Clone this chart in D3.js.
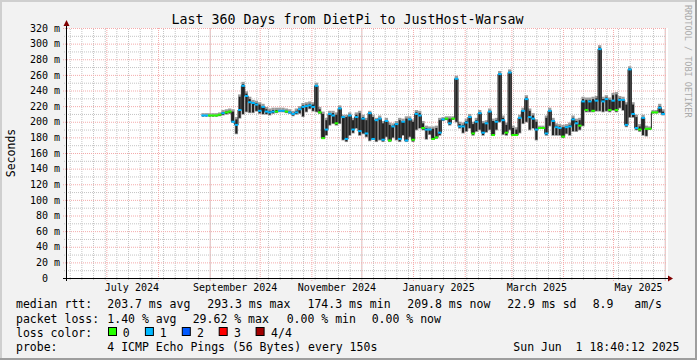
<!DOCTYPE html>
<html>
<head>
<meta charset="utf-8">
<script src="https://cdn.jsdelivr.net/npm/d3@7"></script>
<style>
body { margin: 0; background: #fff; }
svg { display: block; }
text { font-family: "DejaVu Sans Mono", monospace; white-space: pre; }
</style>
</head>
<body>
<div id="chart"></div>
<script>
// smokeping style graph, 360 days
const title = "Last 360 Days from DietPi to JustHost-Warsaw"
const startTime = new Date(2024, 5, 6, 18, 40, 12)
const endTime = new Date(2025, 5, 1, 18, 40, 12)
const firstSample = new Date(2024, 7, 28)
const stepDays = 2

const yTicks = [0, 20, 40, 60, 80, 100, 120, 140, 160, 180, 200, 220, 240, 260, 280, 300, 320]
const yMinor = [10, 30, 50, 70, 90, 110, 130, 150, 170, 190, 210, 230, 250, 270, 290, 310]

// median rtt (ms) per sample, and the spread of the median inside the sample
const med = [
  208, 208, 208, 208, 208, 209, 211, 212, 213, 200,
  196, 215, 246, 233, 225, 224, 222, 214, 219, 213,
  212, 213, 213, 214, 214, 213, 212, 210, 212, 216,
  219, 220, 221, 219, 246, 212, 179, 190, 210, 208,
  198, 217, 206, 178, 208, 190, 206, 188, 204, 185,
  211, 178, 202, 204, 177, 201, 176, 194, 197, 178,
  200, 176, 203, 177, 210, 208, 192, 190, 190, 178,
  180, 186, 203, 204, 198, 204, 255, 194, 194, 199,
  206, 185, 200, 211, 186, 198, 213, 183, 200, 261,
  202, 186, 263, 183, 183, 205, 214, 229, 206, 204,
  190, 192, 192, 185, 214, 201, 193, 192, 181, 193,
  194, 203, 198, 195, 226, 215, 226, 214, 227, 293,
  226, 229, 215, 227, 215, 228, 228, 196, 267, 210,
  192, 190, 205, 191, 191, 212, 212, 218, 210
]
const lo = [
  208, 208, 208, 208, 208, 208, 209, 210, 211, 200,
  185, 205, 210, 213, 212, 212, 214, 211, 210, 210,
  209, 211, 212, 213, 213, 212, 211, 208, 210, 211,
  207, 213, 217, 214, 213, 211, 179, 183, 196, 198,
  196, 198, 177, 175, 183, 186, 192, 183, 185, 181,
  176, 178, 175, 177, 175, 181, 175, 180, 177, 175,
  183, 175, 181, 175, 190, 192, 190, 178, 184, 178,
  179, 183, 202, 203, 196, 204, 200, 192, 186, 188,
  192, 183, 188, 190, 183, 187, 190, 183, 190, 200,
  184, 183, 190, 183, 183, 186, 198, 200, 190, 192,
  177, 192, 192, 183, 195, 183, 183, 183, 180, 185,
  183, 188, 188, 190, 195, 213, 213, 213, 214, 214,
  213, 214, 213, 215, 213, 218, 215, 194, 206, 206,
  190, 188, 183, 182, 191, 212, 212, 212, 209
]
const hi = [
  208, 208, 208, 208, 208, 209, 212, 213, 214, 213,
  203, 232, 248, 236, 229, 225, 224, 222, 220, 216,
  214, 215, 215, 215, 215, 214, 213, 211, 214, 217,
  221, 222, 223, 222, 247, 216, 210, 202, 211, 211,
  209, 218, 206, 206, 209, 202, 209, 211, 206, 202,
  211, 206, 202, 205, 198, 202, 196, 195, 198, 202,
  201, 204, 204, 200, 212, 211, 198, 192, 191, 191,
  192, 202, 203, 204, 204, 204, 256, 197, 196, 201,
  207, 197, 202, 212, 198, 199, 214, 201, 202, 262,
  205, 196, 264, 192, 190, 206, 215, 231, 214, 208,
  200, 192, 192, 205, 215, 202, 195, 194, 193, 194,
  196, 205, 201, 202, 229, 228, 228, 229, 230, 295,
  229, 231, 228, 234, 235, 230, 229, 222, 268, 222,
  206, 194, 206, 192, 191, 212, 212, 220, 213
]
// lost pings per sample (of 4)
const loss = [
  1, 1, 0, 0, 0, 0, 1, 0, 0, 1,
  1, 1, 1, 1, 1, 1, 1, 1, 1, 1,
  1, 1, 0, 1, 1, 0, 1, 1, 1, 1,
  1, 1, 1, 1, 1, 0, 0, 1, 1, 1,
  0, 1, 1, 1, 1, 1, 1, 1, 1, 1,
  1, 1, 1, 1, 1, 1, 0, 1, 1, 1,
  1, 1, 1, 0, 1, 1, 0, 1, 1, 0,
  0, 1, 1, 0, 1, 0, 1, 1, 1, 1,
  1, 0, 1, 1, 1, 1, 1, 0, 1, 1,
  1, 0, 1, 0, 0, 1, 1, 1, 1, 1,
  1, 0, 0, 1, 1, 1, 1, 1, 0, 1,
  1, 1, 1, 0, 1, 0, 1, 0, 1, 1,
  1, 1, 0, 1, 0, 1, 1, 1, 1, 1,
  1, 0, 1, 0, 0, 0, 0, 1, 1
]

const lossLabels = ["0", "1", "2", "3", "4/4"]
const lossColors = ["#26ff00", "#00b8ff", "#0059ff", "#ff0000", "#a10000"]
const rttStats = ["203.7 ms avg", "293.3 ms max", "174.3 ms min", "209.8 ms now", "22.9 ms sd", "8.9   am/s"]
const lossStats = ["1.40 % avg", "29.62 % max", "0.00 % min", "0.00 % now"]
const probeText = "4 ICMP Echo Pings (56 Bytes) every 150s"
const stamp = "Sun Jun  1 18:40:12 2025"

width = 697
height = 360
margin = ({ top: 28, right: 31, bottom: 82, left: 66 })
plotW = 600
plotH = 250
bottom = margin.top + plotH

sampleDates = med.map((d, i) => d3.timeDay.offset(firstSample, i * stepDays))

x = d3.scaleTime()
   .domain([startTime, endTime])
   .range([margin.left, margin.left + plotW])

y = d3.scaleLinear()
   .domain([0, 320])
   .range([bottom, margin.top])

const svg = d3.create("svg")
   .attr("width", width)
   .attr("height", height)
   .attr("viewBox", [0, 0, width, height])

// background + 3d frame
svg.append("rect").attr("width", width).attr("height", height).attr("fill", "#f2f2f2")
svg.append("path").attr("d", `M0,0H${width}V2H2V${height}H0Z`).attr("fill", "#cfcfcf")
svg.append("path").attr("d", `M${width},0V${height}H0V${height - 2}H${width - 2}V0Z`).attr("fill", "#9e9e9e")

svg.append("rect")
   .attr("x", margin.left).attr("y", margin.top)
   .attr("width", plotW + 2).attr("height", plotH)
   .attr("fill", "#fff")

// grid
gridStyle = (color) => g => g
   .call(g => g.select(".domain").remove())
   .call(g => g.selectAll("text").remove())
   .call(g => g.selectAll("line").attr("stroke", color).attr("stroke-dasharray", "1,1"))

svg.append("g")
   .attr("transform", `translate(0,${bottom + 2})`)
   .call(d3.axisBottom(x).tickValues(d3.timeSunday.range(startTime, endTime)).tickSize(-(plotH + 2)))
   .call(gridStyle("#c4c4c4"))

svg.append("g")
   .attr("transform", `translate(${margin.left - 2},0)`)
   .call(d3.axisLeft(y).tickValues(yMinor).tickSize(-(plotW + 2)))
   .call(gridStyle("#c4c4c4"))

svg.append("g")
   .attr("transform", `translate(0,${bottom + 3})`)
   .call(d3.axisBottom(x).tickValues(d3.timeMonth.range(startTime, endTime)).tickSize(-(plotH + 3)))
   .call(gridStyle("#f4abab"))

svg.append("g")
   .attr("transform", `translate(${margin.left - 3},0)`)
   .call(d3.axisLeft(y).tickValues(yTicks).tickSize(-(plotW + 3)))
   .call(gridStyle("#f4abab"))

// data
svg.append("clipPath").attr("id", "plot")
   .append("rect").attr("x", margin.left).attr("y", margin.top - 10)
   .attr("width", plotW).attr("height", plotH + 10)

bw = x(sampleDates[1]) - x(sampleDates[0])
const marks = svg.append("g").attr("clip-path", "url(#plot)")

// smoke
marks.append("g")
   .attr("fill", "#9c9c9c")
   .selectAll("rect")
   .data(med)
   .join("rect")
   .attr("x", (d, i) => x(sampleDates[i]) - bw / 2)
   .attr("y", (d, i) => y(hi[i] + 3))
   .attr("width", bw)
   .attr("height", (d, i) => y(lo[i] - 1) - y(hi[i] + 3))

// spread of the median
marks.append("g")
   .attr("fill", "#222")
   .selectAll("rect")
   .data(med)
   .join("rect")
   .attr("x", (d, i) => x(sampleDates[i]) - 1)
   .attr("y", (d, i) => y(hi[i]))
   .attr("width", 2)
   .attr("height", (d, i) => Math.max(1, y(lo[i]) - y(hi[i])))

marks.append("path")
   .datum(med)
   .attr("fill", "none")
   .attr("stroke", "#222")
   .attr("stroke-width", 1)
   .attr("d", d3.line().curve(d3.curveStep).x((d, i) => x(sampleDates[i])).y(d => y(d)))

// median coloured by loss
marks.append("g")
   .selectAll("rect")
   .data(med)
   .join("rect")
   .attr("x", (d, i) => x(sampleDates[i]) - bw / 2)
   .attr("y", d => y(d) - 1)
   .attr("width", bw + 0.2)
   .attr("height", 2)
   .attr("fill", (d, i) => lossColors[loss[i]])

// axes
svg.append("line")
   .attr("x1", margin.left - 3).attr("x2", margin.left + plotW + 4)
   .attr("y1", bottom + 0.5).attr("y2", bottom + 0.5)
   .attr("stroke", "#000")
svg.append("line")
   .attr("x1", margin.left + 0.5).attr("x2", margin.left + 0.5)
   .attr("y1", bottom + 3).attr("y2", margin.top - 4)
   .attr("stroke", "#000")
svg.append("path")
   .attr("d", `M${margin.left + plotW + 2},${bottom - 2.5}l5,3l-5,3Z`)
   .attr("fill", "#800000")
svg.append("path")
   .attr("d", `M${margin.left - 2.5},${margin.top - 2}l3,-6l3,6Z`)
   .attr("fill", "#800000")

labelMonths = d3.timeMonth.range(new Date(2024, 6, 1), endTime, 2).map(m => d3.timeDay.offset(m, 15))

svg.append("g")
   .attr("transform", `translate(0,${bottom})`)
   .call(d3.axisBottom(x).tickValues(labelMonths).tickSize(0).tickPadding(6).tickFormat(d3.timeFormat("%B %Y")))
   .call(g => g.select(".domain").remove())
   .call(g => g.selectAll("text").attr("font-family", "DejaVu Sans Mono").attr("font-size", 10).attr("fill", "#000"))

svg.append("g")
   .attr("transform", `translate(${margin.left},0)`)
   .call(d3.axisLeft(y).tickValues(yTicks).tickSize(0).tickPadding(6)
      .tickFormat(v => v === 0 ? "0\u00a0\u00a0" : v + " m"))
   .call(g => g.select(".domain").remove())
   .call(g => g.selectAll("text").attr("font-family", "DejaVu Sans Mono").attr("font-size", 10).attr("fill", "#000"))

// titles
svg.append("text")
   .attr("x", 347.5).attr("y", 24)
   .attr("text-anchor", "middle")
   .attr("font-size", 13.3)
   .text(title)

svg.append("text")
   .attr("transform", `translate(14.5,${margin.top + plotH / 2}) rotate(-90)`)
   .attr("text-anchor", "middle")
   .attr("font-size", 11.5)
   .text("Seconds")

svg.append("text")
   .attr("transform", "translate(685,5) rotate(90)")
   .attr("font-size", 8.5)
   .attr("fill", "#aaa")
   .text("RRDTOOL / TOBI OETIKER")

// legend
const legend = svg.append("g")
   .attr("font-size", 11.5)
   .attr("fill", "#000")

rows = [308.3, 322.8, 336.6, 351]
legend.append("text").attr("x", 16).attr("y", rows[0]).text("median rtt:")
rttX = [107.3, 207.3, 307.5, 407.3, 507.3, 592.7]
rttStats.forEach((s, i) => legend.append("text").attr("x", rttX[i]).attr("y", rows[0]).text(s))

legend.append("text").attr("x", 16).attr("y", rows[1]).text("packet loss:")
lossX = [107.3, 192.7, 286.7, 371.7]
lossStats.forEach((s, i) => legend.append("text").attr("x", lossX[i]).attr("y", rows[1]).text(s))

legend.append("text").attr("x", 16).attr("y", rows[2]).text("loss color:")
lossLabels.forEach((s, i) => {
   legend.append("rect")
      .attr("x", 108.5 + i * 36.9).attr("y", 327.5)
      .attr("width", 8).attr("height", 8)
      .attr("fill", lossColors[i]).attr("stroke", "#000")
   legend.append("text").attr("x", 122.7 + i * 37.1).attr("y", rows[2]).text(s)
})

legend.append("text").attr("x", 16).attr("y", rows[3]).text("probe:")
legend.append("text").attr("x", 107.3).attr("y", rows[3]).text(probeText)
legend.append("text").attr("x", 513.3).attr("y", rows[3]).text(stamp)

d3.select("#chart").node().append(svg.node())
</script>
</body>
</html>
